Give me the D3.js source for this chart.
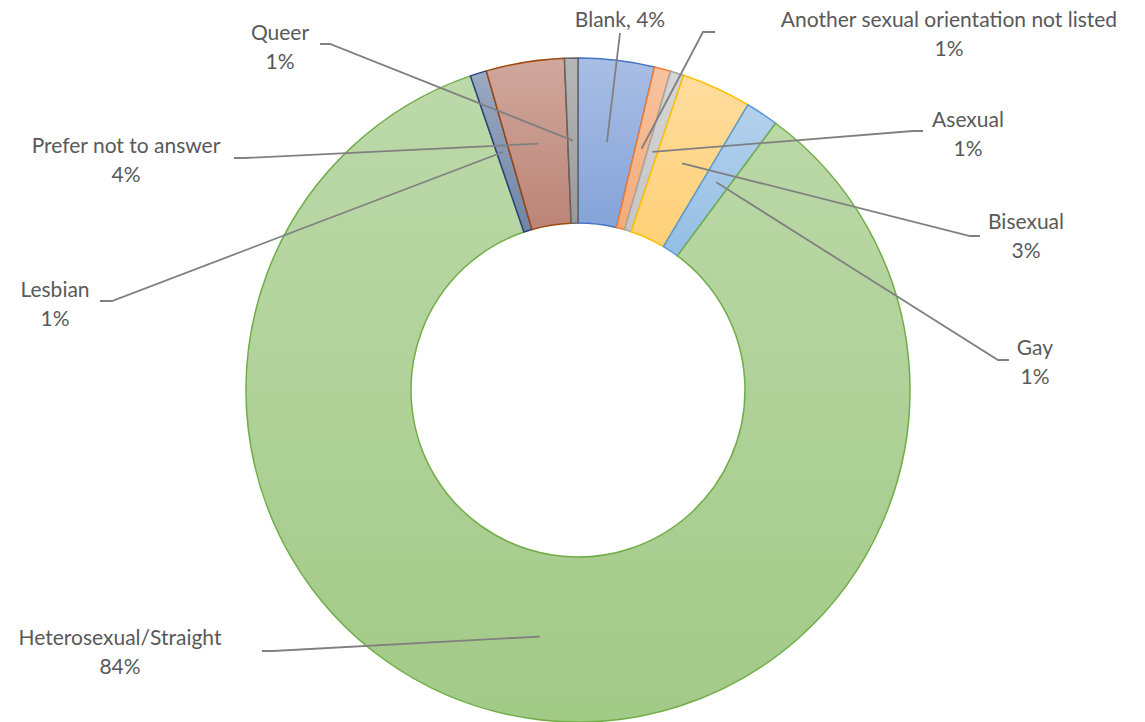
<!DOCTYPE html>
<html lang="en">
<head>
<meta charset="UTF-8">
<script src="https://d3js.org/d3.v7.min.js"></script>
<style>
  body { margin: 0; background: #fff; }
  text { font-family: Lato, "Open Sans", sans-serif; fill: #595959; }
</style>
</head>
<body>
<div id="chart"></div>
<script>
// data
var categories = ["Blank", "Another sexual orientation not listed", "Asexual", "Bisexual", "Gay",
                  "Heterosexual/Straight", "Lesbian", "Prefer not to answer", "Queer"];
var values = [3.7, 0.8, 0.65, 3.4, 1.6, 84.6, 0.8, 3.8, 0.65];
var pctLabels = ["4%", "1%", "1%", "3%", "1%", "84%", "1%", "4%", "1%"];
var colors = ["#4472c4", "#ed7d31", "#a5a5a5", "#ffc000", "#5b9bd5",
              "#70ad47", "#264478", "#9e480e", "#636363"];
var fills = ["#4472c4", "#ed7d31", "#a5a5a5", "#ffb62e", "#5b9bd5",
             "#70ad47", "#264478", "#98422c", "#636363"];

// label placement: text centre x, first line y, leader end point and elbow
var labelPos = [
  {tx: 620, ty: 20, one: true, lx: 620, ly: 33, ex: 620},
  {tx: 949, ty: 20, lx: 715, ly: 32, ex: 703},
  {tx: 968, ty: 120, lx: 923, ly: 131, ex: 913},
  {tx: 1026, ty: 222, lx: 980, ly: 236, ex: 970},
  {tx: 1035, ty: 348, lx: 1009, ly: 360, ex: 998},
  {tx: 120, ty: 638, lx: 262, ly: 651, ex: 273},
  {tx: 55, ty: 290, lx: 100, ly: 301, ex: 112},
  {tx: 126, ty: 146, lx: 234, ly: 158, ex: 245},
  {tx: 280, ty: 33, lx: 320, ly: 44, ex: 330}
];

var width = 1145, height = 722;
var cx = 578, cy = 390, outerR = 332, innerR = 167;

var svg = d3.select("#chart").append("svg")
  .attr("width", width).attr("height", height);

// vertical gradient inside each slice, lighter at the top
var defs = svg.append("defs");
fills.forEach(function(c, i) {
  var g = defs.append("linearGradient")
    .attr("id", "grad" + i)
    .attr("x1", 0).attr("y1", 0).attr("x2", 0).attr("y2", 1);
  g.append("stop").attr("offset", "0%").attr("stop-color", d3.interpolateRgb("#fff", c)(0.46));
  g.append("stop").attr("offset", "100%").attr("stop-color", d3.interpolateRgb("#fff", c)(0.65));
});

var data = categories.map(function(d, i) { return {name: d, value: values[i], i: i}; });

var pie = d3.pie().sort(null).value(function(d) { return d.value; });
var arc = d3.arc().innerRadius(innerR).outerRadius(outerR);

var g = svg.append("g").attr("transform", "translate(" + cx + "," + cy + ")");

var arcs = pie(data);

g.selectAll("path.slice")
  .data(arcs)
  .enter().append("path")
    .attr("class", "slice")
    .attr("d", arc)
    .style("fill", function(d) { return "url(#grad" + d.data.i + ")"; })
    .style("stroke", function(d) { return colors[d.data.i]; })
    .style("stroke-width", 1.5);

// leader lines
svg.selectAll("polyline.leader")
  .data(arcs)
  .enter().append("polyline")
    .attr("class", "leader")
    .attr("points", function(d) {
      var c = arc.centroid(d);
      var p = labelPos[d.data.i];
      return [[cx + c[0], cy + c[1]], [p.ex, p.ly], [p.lx, p.ly]].join(" ");
    })
    .style("fill", "none")
    .style("stroke", "#808080")
    .style("stroke-width", 1.8);

// labels
var lab = svg.selectAll("text.lab")
  .data(arcs)
  .enter().append("text")
    .attr("class", "lab")
    .attr("text-anchor", "middle")
    .style("font-size", "21px");

lab.each(function(d) {
  var p = labelPos[d.data.i];
  var t = d3.select(this);
  if (p.one) {
    t.append("tspan").attr("x", p.tx).attr("y", p.ty).attr("dy", "0.35em")
      .text(d.data.name + ", " + pctLabels[d.data.i]);
  } else {
    t.append("tspan").attr("x", p.tx).attr("y", p.ty).attr("dy", "0.35em").text(d.data.name);
    t.append("tspan").attr("x", p.tx).attr("y", p.ty + 29).attr("dy", "0.35em").text(pctLabels[d.data.i]);
  }
});
</script>
</body>
</html>
